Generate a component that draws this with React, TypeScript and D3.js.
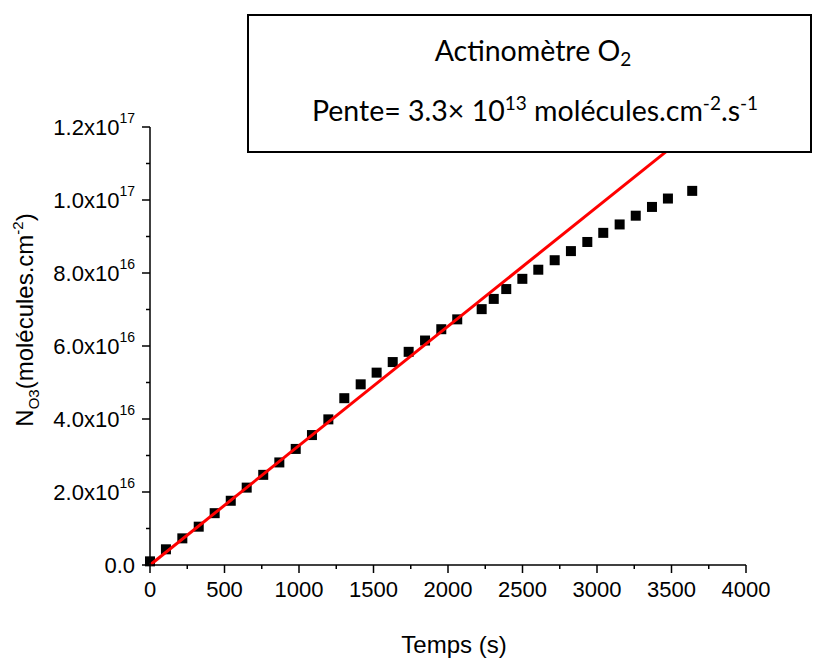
import * as d3 from 'd3';

// Temps (s) and N_O3 (molécules.cm-2, in units of 1e16)
const times = [
  0, 107, 217, 327, 434, 542, 649, 760, 868, 978,
  1087, 1197, 1304, 1414, 1521, 1629, 1736, 1846, 1955, 2062,
  2226, 2307, 2391, 2499, 2606, 2716, 2825, 2935, 3042, 3152,
  3260, 3369, 3476, 3639,
];
const values16 = [
  0.1, 0.43, 0.73, 1.05, 1.42, 1.76, 2.12, 2.47, 2.81, 3.18,
  3.56, 3.99, 4.57, 4.95, 5.27, 5.56, 5.84, 6.15, 6.46, 6.73,
  7.01, 7.29, 7.56, 7.84, 8.09, 8.35, 8.6, 8.85, 9.1, 9.33,
  9.57, 9.81, 10.04, 10.25,
];
// linear fit through the origin
const fitSlope = 3.27e13;
const fitRange = [0, 3640];

const xTicks = [0, 500, 1000, 1500, 2000, 2500, 3000, 3500, 4000];
const yTickMantissa = ['0.0', '2.0', '4.0', '6.0', '8.0', '1.0', '1.2'];
const yTickExp = ['', '16', '16', '16', '16', '17', '17'];
const yTickValues = [0, 2e16, 4e16, 6e16, 8e16, 1e17, 1.2e17];

const W = 813;
const H = 661;
const M = { left: 150, right: 746, top: 127, bottom: 565 };
const AXIS_FONT = "'Liberation Sans', Arial, sans-serif";
const BOX_FONT = 'Lato, "Open Sans", sans-serif';

export default function App() {
  const x = d3.scaleLinear().domain([0, 4000]).range([M.left, M.right]);
  const y = d3.scaleLinear().domain([0, 1.2e17]).range([M.bottom, M.top]);

  const points = times.map((t, i) => ({ t, n: values16[i] * 1e16 }));
  const fitLine = d3.line<number>()
    .x((t) => x(t))
    .y((t) => y(fitSlope * t));

  const xMinor = d3.range(250, 4000, 500);
  const yMinor = d3.range(1e16, 1.2e17, 2e16);

  return (
    <div style={{ position: 'absolute', left: 0, top: 0 }}>
      <svg width={W} height={H} style={{ display: 'block', background: '#fff' }}>
        {/* data */}
        {points.map((p, i) => (
          <rect key={i} x={x(p.t) - 5} y={y(p.n) - 5} width={10} height={10} fill="#000" />
        ))}
        <path d={fitLine(fitRange) ?? ''} fill="none" stroke="#ff0000" strokeWidth={3} />

        {/* x axis */}
        <g fontFamily={AXIS_FONT} fontSize={22} fill="#000">
          <line x1={M.left} x2={M.right} y1={M.bottom} y2={M.bottom} stroke="#000" strokeWidth={1.5} />
          {xTicks.map((t) => (
            <g key={t}>
              <line x1={x(t)} x2={x(t)} y1={M.bottom} y2={M.bottom + 8} stroke="#000" strokeWidth={1.5} />
              <text x={x(t)} y={597} textAnchor="middle">{t}</text>
            </g>
          ))}
          {xMinor.map((t) => (
            <line key={t} x1={x(t)} x2={x(t)} y1={M.bottom} y2={M.bottom + 4} stroke="#000" strokeWidth={1.5} />
          ))}
          <text x={454} y={653} textAnchor="middle" fontSize={24}>Temps (s)</text>
        </g>

        {/* y axis */}
        <g fontFamily={AXIS_FONT} fontSize={22} fill="#000">
          <line x1={M.left} x2={M.left} y1={M.top} y2={M.bottom} stroke="#000" strokeWidth={1.5} />
          {yTickValues.map((v, i) => (
            <g key={v}>
              <line x1={M.left - 8} x2={M.left} y1={y(v)} y2={y(v)} stroke="#000" strokeWidth={1.5} />
              <text x={135} y={y(v) + 8} textAnchor="end">
                {yTickExp[i] ? (
                  <>
                    {yTickMantissa[i]}x10
                    <tspan fontSize={14} dy={-12}>{yTickExp[i]}</tspan>
                  </>
                ) : (
                  yTickMantissa[i]
                )}
              </text>
            </g>
          ))}
          {yMinor.map((v) => (
            <line key={v} x1={M.left - 4} x2={M.left} y1={y(v)} y2={y(v)} stroke="#000" strokeWidth={1.5} />
          ))}
          <text transform="translate(33,320) rotate(-90)" textAnchor="middle" fontSize={24}>
            N<tspan fontSize={15} dy={6}>O3</tspan>
            <tspan dy={-6}>(molécules.cm</tspan>
            <tspan fontSize={15} dy={-10}>-2</tspan>
            <tspan dy={10}>)</tspan>
          </text>
        </g>

        {/* annotation box */}
        <rect x={248} y={15} width={563} height={137} fill="#fff" stroke="#000" strokeWidth={2} />
        <g fontFamily={BOX_FONT} fontSize={28.5} fill="#000" textAnchor="middle">
          <text x={533} y={61}>
            Actinomètre O<tspan fontSize={19} dy={5}>2</tspan>
          </text>
          <text x={535} y={121}>
            Pente= 3.3× 10<tspan fontSize={19} dy={-11}>13</tspan>
            <tspan dy={11}> molécules.cm</tspan>
            <tspan fontSize={19} dy={-11}>-2</tspan>
            <tspan dy={11}>.s</tspan>
            <tspan fontSize={19} dy={-11}>-1</tspan>
          </text>
        </g>
      </svg>
    </div>
  );
}
